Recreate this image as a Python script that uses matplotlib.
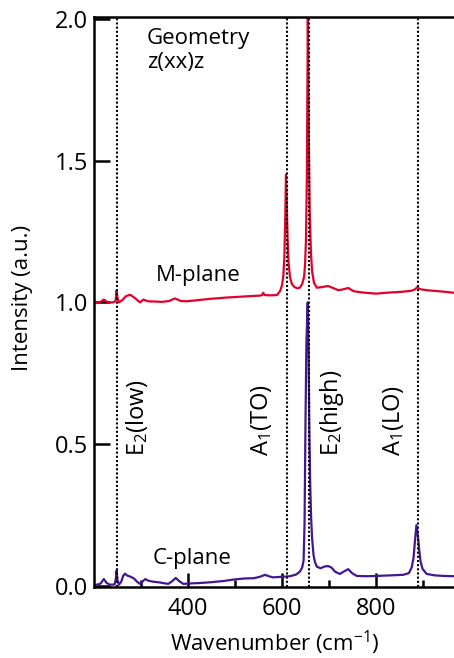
"""Raman spectra of AlN films (M-plane vs C-plane), z(xx)z geometry."""

import matplotlib

matplotlib.use("Agg")  # headless
import matplotlib.pyplot as plt

# M-plane spectrum (offset by +1)
m_wn = [200, 205, 212, 221, 230, 240, 246, 248, 250, 253, 260, 268, 277, 285,
        298, 305, 315, 330, 345, 360, 372, 385, 397, 420, 450, 480, 510, 540,
        553, 558, 560, 563, 575, 589, 596, 600, 603, 605, 607, 608.5, 610, 612,
        614, 617, 621, 626, 632, 638, 643, 647, 649, 651, 653, 655, 657, 659,
        661.5, 664, 668, 674, 685, 698, 710, 720, 730, 741, 752, 766, 785, 801,
        820, 840, 858, 875, 883, 888, 893, 908, 930, 950, 966]
m_int = [0.997, 0.998, 1.000, 1.010, 1.000, 1.000, 1.005, 1.042, 1.015, 1.000,
         1.008, 1.022, 1.027, 1.018, 1.000, 1.010, 1.004, 1.003, 1.002, 1.005,
         1.014, 1.005, 1.004, 1.008, 1.013, 1.017, 1.020, 1.023, 1.024, 1.026,
         1.034, 1.026, 1.025, 1.026, 1.040, 1.060, 1.095, 1.16, 1.30, 1.45,
         1.36, 1.22, 1.14, 1.09, 1.065, 1.055, 1.050, 1.052, 1.065, 1.09, 1.13,
         1.22, 1.45, 2.02, 1.60, 1.32, 1.18, 1.11, 1.07, 1.052, 1.054, 1.058,
         1.050, 1.043, 1.046, 1.051, 1.040, 1.036, 1.033, 1.031, 1.034, 1.036,
         1.038, 1.041, 1.046, 1.054, 1.047, 1.043, 1.040, 1.037, 1.034]

# C-plane spectrum
c_wn = [200, 206, 214, 221, 227, 234, 244, 247, 248, 250, 253, 258, 262, 266,
        271, 277, 285, 292, 298, 303, 309, 316, 325, 340, 350, 358, 366, 374,
        381, 390, 410, 425, 450, 475, 496, 520, 540, 553, 564, 572, 581, 600,
        617, 630, 638, 643, 646, 648, 650, 652, 654.7, 656.5, 658, 660, 662,
        664, 667, 670, 674, 682, 690, 698, 705, 713, 723, 733, 741, 749, 759,
        780, 801, 830, 858, 870, 876, 880, 883, 886, 889, 892, 895, 899, 908,
        925, 945, 966]
c_int = [0.004, 0.004, 0.008, 0.024, 0.010, 0.004, 0.005, 0.030, 0.054, 0.020,
         0.004, 0.015, 0.035, 0.043, 0.036, 0.033, 0.026, 0.014, 0.007, 0.015,
         0.024, 0.018, 0.015, 0.012, 0.009, 0.007, 0.016, 0.028, 0.017, 0.007,
         0.009, 0.010, 0.013, 0.017, 0.022, 0.026, 0.027, 0.032, 0.039, 0.034,
         0.030, 0.032, 0.034, 0.040, 0.050, 0.065, 0.090, 0.22, 0.58, 0.86,
         1.00, 0.85, 0.58, 0.36, 0.24, 0.17, 0.11, 0.085, 0.068, 0.062, 0.068,
         0.070, 0.065, 0.050, 0.042, 0.052, 0.059, 0.045, 0.035, 0.034, 0.035,
         0.037, 0.039, 0.045, 0.065, 0.10, 0.16, 0.214, 0.18, 0.127, 0.085,
         0.060, 0.042, 0.037, 0.035, 0.034]

# phonon modes: dotted line position, label, label x
modes = [248, 611, 657, 890]
mode_labels = ["E$_2$(low)", "A$_1$(TO)", "E$_2$(high)", "A$_1$(LO)"]
mode_label_x = [292, 557, 706, 837]

RED = "#e3002b"
PURPLE = "#43188f"

plt.rcParams["font.family"] = ["Open Sans", "DejaVu Sans"]
plt.rcParams["mathtext.fontset"] = "custom"
plt.rcParams["mathtext.rm"] = "Open Sans"
plt.rcParams["mathtext.default"] = "regular"

FS = 17       # tick labels, mode labels
FS_TXT = 16   # axis titles and annotations

fig = plt.figure(figsize=(4.54, 6.58), dpi=100)
ax = fig.add_axes([94 / 454, 1 - 587 / 658, 360 / 454, 570 / 658])

ax.plot(c_wn, c_int, color=PURPLE, lw=1.6, zorder=2)
ax.plot(m_wn, m_int, color=RED, lw=1.6, zorder=2)

for x in modes:
    ax.axvline(x, color="black", lw=1.5, ls=(0, (1, 1)), zorder=3)

for lab, x in zip(mode_labels, mode_label_x):
    ax.text(x, 0.459, lab, rotation=90, ha="center", va="bottom", fontsize=FS)

ax.text(313, 1.968, "Geometry\nz(xx)z", ha="left", va="top", fontsize=FS_TXT,
        linespacing=1.2)
ax.text(421, 1.094, "M-plane", ha="center", va="center", fontsize=FS_TXT)
ax.text(408, 0.095, "C-plane", ha="center", va="center", fontsize=FS_TXT)

ax.set_xlim(200, 966)
ax.set_ylim(-0.004, 2.007)
ax.set_xticks([400, 600, 800])
ax.set_xticks([300, 500, 700, 900], minor=True)
ax.set_yticks([0.0, 0.5, 1.0, 1.5, 2.0])
ax.set_yticklabels(["0.0", "0.5", "1.0", "1.5", "2.0"])

ax.tick_params(axis="x", which="major", direction="in", length=10, width=1.8,
               labelsize=FS, pad=7)
ax.tick_params(axis="x", which="minor", direction="in", length=5, width=1.8)
ax.tick_params(axis="y", which="major", direction="in", length=11.5, width=1.8,
               labelsize=FS, pad=4)

ax.spines["right"].set_visible(False)
for side in ("left", "top", "bottom"):
    ax.spines[side].set_linewidth(1.8)

# x label anchored on its baseline so it stays inside the canvas
ax.set_xlabel("Wavenumber (cm$^{-1}$)", fontsize=FS_TXT, va="baseline")
ax.set_ylabel("Intensity (a.u.)", fontsize=FS_TXT)
ax.xaxis.set_label_coords(0.503, -0.113)
ax.yaxis.set_label_coords(-0.17, 0.507)

fig.savefig("out.png", dpi=100)
